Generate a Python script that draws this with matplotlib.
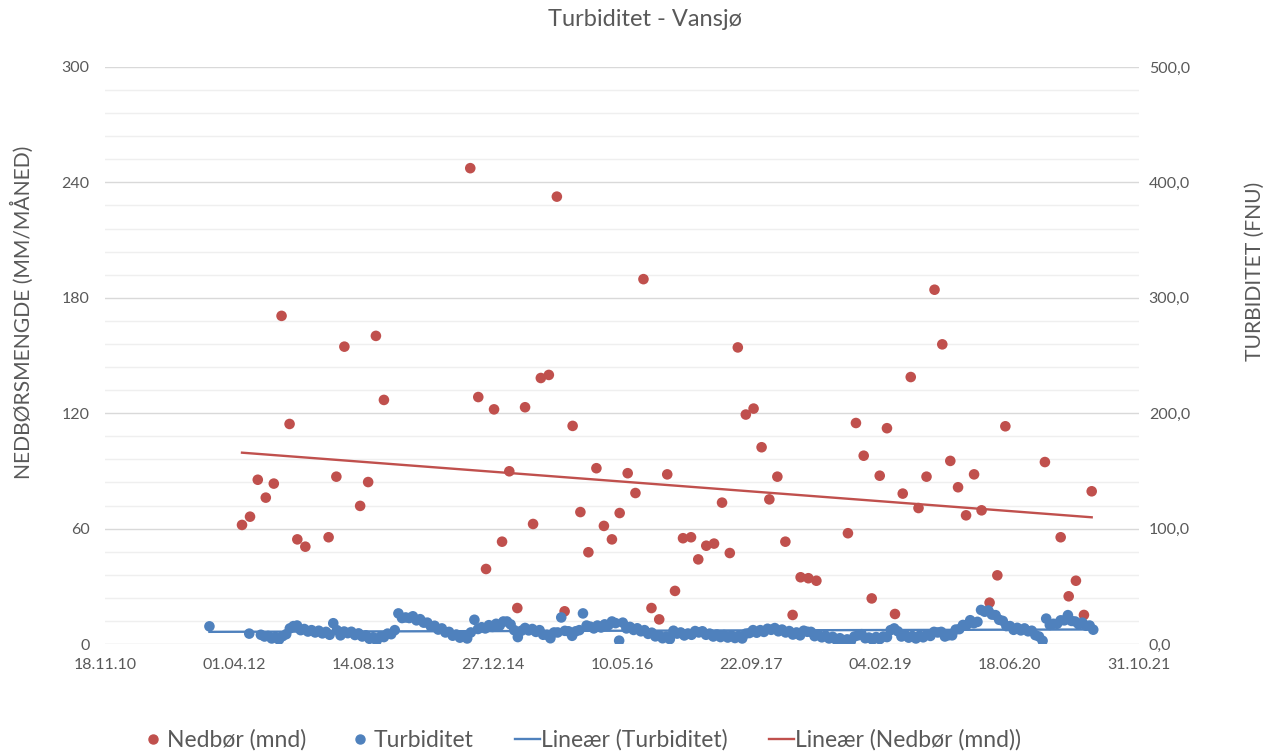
import numpy as np
import pandas as pd
import matplotlib
matplotlib.use("Agg")
import matplotlib.pyplot as plt
import matplotlib.dates as mdates
from matplotlib.lines import Line2D
from matplotlib.ticker import FuncFormatter, MultipleLocator, FixedLocator

plt.rcParams['font.family'] = ['Lato', 'DejaVu Sans']

# ---------------------------------------------------------------------------
# Data
# ---------------------------------------------------------------------------
# Monthly precipitation (mm/month), dated on the first day of the month
nedbor_months = [
    '2012-05', '2012-06', '2012-07', '2012-08', '2012-09', '2012-10', '2012-11',
    '2012-12', '2013-01', '2013-04', '2013-05', '2013-06', '2013-08', '2013-09',
    '2013-10', '2013-11',
    '2014-10', '2014-11', '2014-12', '2015-01', '2015-02', '2015-03', '2015-04',
    '2015-05', '2015-06', '2015-07', '2015-08', '2015-09', '2015-10', '2015-11',
    '2015-12', '2016-01', '2016-02', '2016-03', '2016-04', '2016-05', '2016-06',
    '2016-07', '2016-08', '2016-09', '2016-10', '2016-11', '2016-12', '2017-01',
    '2017-02', '2017-03', '2017-04', '2017-05', '2017-06', '2017-07', '2017-08',
    '2017-09', '2017-10', '2017-11', '2017-12', '2018-01', '2018-02', '2018-03',
    '2018-04', '2018-05', '2018-06',
    '2018-10', '2018-11', '2018-12', '2019-01', '2019-02', '2019-03', '2019-04',
    '2019-05', '2019-06', '2019-07', '2019-08', '2019-09', '2019-10', '2019-11',
    '2019-12', '2020-01', '2020-02', '2020-03', '2020-04', '2020-05', '2020-06',
    '2020-11', '2021-01', '2021-02', '2021-03', '2021-04', '2021-05',
]
nedbor_mm = [
    61.9, 66.2, 85.4, 76.1, 83.4, 170.6, 114.4,
    54.4, 50.6, 55.5, 87.0, 154.6, 71.8, 84.2,
    160.2, 126.9,
    247.4, 128.4, 39.0, 122.0, 53.2, 89.8, 18.7,
    123.1, 62.4, 138.3, 139.9, 232.6, 17.0, 113.4,
    68.6, 47.7, 91.4, 61.4, 54.4, 68.1, 88.8,
    78.5, 189.7, 18.7, 12.8, 88.2, 27.6, 55.0,
    55.5, 44.0, 51.1, 52.2, 73.5, 47.3, 154.2,
    119.3, 122.4, 102.3, 75.2, 87.0, 53.2, 15.1,
    34.7, 34.2, 32.9,
    57.6, 114.9, 97.9, 23.7, 87.5, 112.2, 15.6,
    78.2, 138.8, 70.7, 87.0, 184.2, 155.8, 95.2,
    81.5, 66.9, 88.2, 69.5, 21.5, 35.7, 113.2,
    94.6, 55.5, 24.8, 32.9, 15.1, 79.4,
]

# Turbidity (FNU): two early samples, then fortnightly sampling
turb_early_dates = ['2011-12-27', '2012-05-29']
turb_early_fnu = [15.3, 9.0]
turb_start = '2012-07-13'
turb_step_days = 14
turb_fnu = [
    8.0, 6.5, 7.0, 4.8, 6.0, 3.8, 6.8, 8.5, 13.5, 15.5,
    16.0, 12.0, 13.0, 10.8, 12.0, 10.0, 11.5, 9.2, 10.5, 8.0,
    18.0, 12.0, 7.5, 10.8, 9.4, 10.6, 7.8, 9.2, 6.5, 7.5,
    4.5, 5.8, 3.0, 6.2, 6.0, 9.0, 8.5, 12.0, 26.5, 22.5,
    23.0, 22.5, 24.0, 20.5, 21.5, 18.5, 18.5, 15.0, 15.8, 12.5,
    13.5, 10.0, 10.5, 7.2, 8.2, 5.5, 7.2, 4.8, 10.0, 21.0,
    13.0, 14.5, 13.5, 16.3, 14.8, 17.5, 16.0, 19.5, 19.5, 17.0,
    12.0, 6.0, 11.5, 13.9, 11.8, 13.0, 10.5, 12.0, 8.0, 8.0,
    5.0, 10.0, 10.0, 23.0, 11.4, 11.0, 7.1, 11.0, 12.0, 26.5,
    16.0, 15.0, 13.5, 16.0, 14.3, 17.0, 16.2, 19.5, 18.1, 2.9,
    18.5, 13.5, 14.8, 12.2, 13.6, 11.0, 12.0, 8.8, 9.8, 6.6,
    7.6, 5.0, 6.4, 4.2, 11.5, 9.0, 10.0, 7.4, 9.1, 8.0,
    11.2, 10.0, 11.0, 8.0, 9.0, 6.5, 8.2, 6.0, 7.8, 5.6,
    7.4, 5.2, 7.0, 4.8, 9.0, 9.5, 12.0, 9.8, 12.0, 10.5,
    13.2, 12.3, 13.8, 11.0, 12.5, 10.0, 11.2, 8.2, 10.0, 7.5,
    11.5, 10.6, 10.5, 6.8, 8.2, 5.8, 7.2, 4.8, 6.2, 3.6,
    5.0, 2.5, 4.0, 2.2, 6.5, 7.5, 8.5, 5.0, 5.6, 3.8,
    6.0, 4.2, 6.5, 6.0, 12.0, 13.5, 11.0, 6.5, 8.0, 5.5,
    7.0, 4.8, 7.2, 5.8, 8.2, 7.0, 10.5, 10.0, 10.5, 6.5,
    7.6, 7.5, 12.5, 12.9, 16.5, 16.5, 20.6, 18.0, 19.2, 29.5,
    28.0, 29.0, 25.5, 25.0, 21.0, 20.0, 15.5, 15.5, 12.3, 14.0,
    11.8, 13.5, 11.0, 11.5, 7.7, 6.5, 2.8, 22.0, 16.5, 17.5,
    17.5, 20.5, 20.5, 25.0, 20.0, 19.5, 17.0, 18.5, 15.8, 16.0,
    12.4,
]

# Axis settings
x_start, x_end, x_step_days = '2010-11-18', '2021-10-31', 500
left_max, left_step, left_minor = 300, 60, 12
right_max, right_step = 500, 100

# ---------------------------------------------------------------------------
# Prepare series
# ---------------------------------------------------------------------------
ned_dates = pd.to_datetime([m + '-01' for m in nedbor_months])
turb_dates = pd.to_datetime(turb_early_dates).append(
    pd.date_range(turb_start, periods=len(turb_fnu), freq=f'{turb_step_days}D'))
turb_vals = np.array(turb_early_fnu + turb_fnu)
ned_vals = np.array(nedbor_mm)

ned_x = mdates.date2num(ned_dates)
turb_x = mdates.date2num(turb_dates)

RED = '#C0504D'
BLUE = '#4F81BD'
TXT = '#595959'
MS = 58

fig = plt.figure(figsize=(12.78, 7.51), dpi=100)
ax = fig.add_axes([105 / 1278, 1 - 644 / 751, (1139 - 105) / 1278, (644 - 67) / 751])
ax2 = ax.twinx()

# gridlines (minor every 12 mm, major every 60 mm)
ax.set_ylim(0, left_max)
ax.yaxis.set_major_locator(MultipleLocator(left_step))
ax.yaxis.set_minor_locator(MultipleLocator(left_minor))
ax.grid(which='minor', axis='y', color='#EFEFEF', lw=1.0, zorder=0)
ax.grid(which='major', axis='y', color='#D9D9D9', lw=1.0, zorder=0)
ax.set_axisbelow(True)

# precipitation points and trend
ax.scatter(ned_x, ned_vals, s=MS, color=RED, edgecolors='none', zorder=3)
k, m = np.polyfit(ned_x, ned_vals, 1)
xl = np.array([ned_x.min(), ned_x.max()])
ax.plot(xl, k * xl + m, color=RED, lw=1.7, zorder=4)

# turbidity points and trend
ax2.set_ylim(0, right_max)
ax2.yaxis.set_major_locator(MultipleLocator(right_step))
ax2.scatter(turb_x, turb_vals, s=MS, color=BLUE, edgecolors='none', zorder=3)
k2, m2 = np.polyfit(turb_x, turb_vals, 1)
xl2 = np.array([turb_x.min(), turb_x.max()])
ax2.plot(xl2, k2 * xl2 + m2, color=BLUE, lw=1.7, zorder=4)

# x axis: dates every 500 days
x0 = mdates.date2num(pd.Timestamp(x_start))
x1 = mdates.date2num(pd.Timestamp(x_end))
ax.set_xlim(x0, x1)
ax.xaxis.set_major_locator(FixedLocator(np.arange(x0, x1 + 1, x_step_days)))
ax.xaxis.set_major_formatter(mdates.DateFormatter('%d.%m.%y'))

for a in (ax, ax2):
    for s in a.spines.values():
        s.set_visible(False)
ax.tick_params(axis='x', length=0, pad=10, labelsize=11.5, labelcolor=TXT)
ax.tick_params(axis='y', which='both', length=0, pad=11, labelsize=11.5, labelcolor=TXT)
ax2.tick_params(axis='y', which='both', length=0, pad=7, labelsize=11.5, labelcolor=TXT)
ax2.yaxis.set_major_formatter(FuncFormatter(lambda v, p: f'{v:.1f}'.replace('.', ',')))

fig.text(645 / 1278, 1 - 20 / 751, 'Turbiditet - Vansjø', ha='center', va='center',
         fontsize=17, color=TXT)
fig.text(22 / 1278, 1 - 312 / 751, 'NEDBØRSMENGDE (MM/MÅNED)', rotation=90,
         ha='center', va='center', fontsize=15.2, color=TXT)
fig.text(1255 / 1278, 1 - 271 / 751, 'TURBIDITET (FNU)', rotation=90,
         ha='center', va='center', fontsize=15.2, color=TXT)

handles = [
    Line2D([], [], ls='none', marker='o', ms=6.5, color=RED),
    Line2D([], [], ls='none', marker='o', ms=6.5, color=BLUE),
    Line2D([], [], color=BLUE, lw=1.7),
    Line2D([], [], color=RED, lw=1.7),
]
labels = ['Nedbør (mnd)', 'Turbiditet', 'Lineær (Turbiditet)', 'Lineær (Nedbør (mnd))']
leg = fig.legend(handles, labels, loc='center', bbox_to_anchor=(581 / 1278, 1 - 740 / 751),
                 ncol=4, frameon=False, fontsize=16.5, handlelength=1.1,
                 handletextpad=0.05, columnspacing=1.8, labelcolor=TXT,
                 borderpad=0, borderaxespad=0)

fig.savefig('out.png', dpi=100)
